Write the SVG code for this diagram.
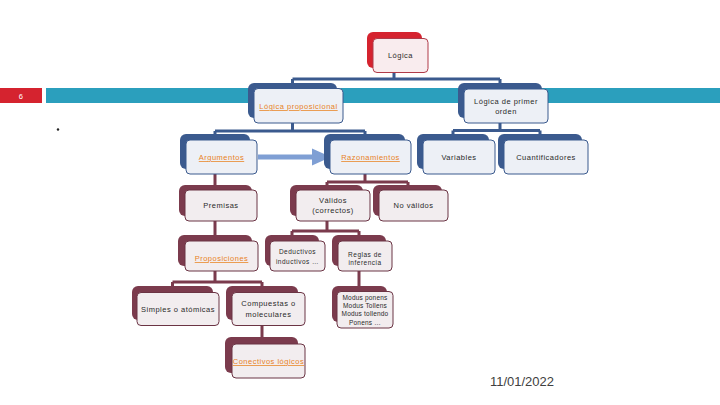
<svg xmlns="http://www.w3.org/2000/svg" width="720" height="405" viewBox="0 0 720 405">
<style>
.bb{fill:#3b5a8e}
.bm{fill:#7b3b4d}
.br{fill:#d5232f}
.cb{fill:#edf0f6;stroke:#3b5a8e;stroke-width:1}
.cm{fill:#f2edef;stroke:#6b3444;stroke-width:1}
.cr{fill:#f9ecee;stroke:#b03a48;stroke-width:1}
.t{font-family:"Liberation Sans",Arial,sans-serif;font-size:7.5px;fill:#2a2a2a;text-anchor:middle;letter-spacing:0.5px}
.o{fill:#e8821e;text-decoration:underline}
.lb{fill:none;stroke:#3b5a8e;stroke-width:3}
.lm{fill:none;stroke:#7b3b4d;stroke-width:3}
</style>
<rect width="720" height="405" fill="#fff"/>
<rect x="0" y="88" width="42" height="15" fill="#d5232f"/>
<rect x="46" y="88" width="674" height="15" fill="#2b9fbd"/>
<text x="21" y="98.5" class="t" style="fill:#fff">6</text>
<circle cx="58" cy="129.5" r="1.2" fill="#222"/>
<g id="connectors">
<path class="lb" d="M394 72V79M292.5 79H500M292.5 79V84M500 79V84"/>
<path class="lb" d="M292.5 123V131M215 131H365M215 131V135M365 131V135"/>
<path class="lb" d="M500 123V130.5M453 130.5H540M453 130.5V135M540 130.5V135"/>
<path class="lm" d="M215 174V186"/>
<path class="lm" d="M365 174V182M327 182H408M327 182V186M408 182V186"/>
<path class="lm" d="M215 221V236"/>
<path class="lm" d="M327 221V231M292 231H359M292 231V236M359 231V236"/>
<path class="lm" d="M215 271V282M172.5 282H262M172.5 282V287M262 282V287"/>
<path class="lm" d="M359 271V287"/>
<path class="lm" d="M262 325V338"/>
<path d="M258 157H314" stroke="#7f9fd4" stroke-width="5" fill="none"/>
<polygon points="312,148.5 331,157 312,165.5" fill="#7f9fd4"/>
</g>
<g id="n-logica">
<rect class="br" x="367" y="32" width="55" height="36" rx="6"/>
<rect class="cr" x="373" y="38.5" width="55" height="34" rx="4"/>
<text class="t" x="400.5" y="58">Lógica</text>
</g>
<g id="n-proposicional">
<rect class="bb" x="248" y="83" width="89" height="35" rx="6"/>
<rect class="cb" x="254" y="88.5" width="89" height="34.5" rx="4"/>
<text class="t o" x="298.5" y="109">Lógica proposicional</text>
</g>
<g id="n-primer">
<rect class="bb" x="458" y="83" width="84" height="35" rx="6"/>
<rect class="cb" x="464" y="89" width="84" height="34" rx="4"/>
<text class="t" x="506" y="104">Lógica de primer</text>
<text class="t" x="506" y="114">orden</text>
</g>
<g id="n-argumentos">
<rect class="bb" x="180" y="134" width="70" height="35" rx="6"/>
<rect class="cb" x="186" y="140" width="71" height="34" rx="4"/>
<text class="t o" x="221.5" y="160">Argumentos</text>
</g>
<g id="n-razonamientos">
<rect class="bb" x="324" y="134" width="81" height="35" rx="6"/>
<rect class="cb" x="330" y="140" width="81" height="34" rx="4"/>
<text class="t o" x="370.5" y="160">Razonamientos</text>
</g>
<g id="n-variables">
<rect class="bb" x="417" y="134" width="72" height="35" rx="6"/>
<rect class="cb" x="423" y="140" width="72" height="34" rx="4"/>
<text class="t" x="459" y="160">Variables</text>
</g>
<g id="n-cuantificadores">
<rect class="bb" x="498" y="134" width="84" height="35" rx="6"/>
<rect class="cb" x="504" y="140" width="84" height="34" rx="4"/>
<text class="t" x="546" y="160">Cuantificadores</text>
</g>
<g id="n-premisas">
<rect class="bm" x="179" y="185" width="73" height="31" rx="6"/>
<rect class="cm" x="185" y="190" width="72" height="31" rx="4"/>
<text class="t" x="221" y="208">Premisas</text>
</g>
<g id="n-validos">
<rect class="bm" x="290" y="185" width="73" height="31" rx="6"/>
<rect class="cm" x="296" y="190" width="74" height="31" rx="4"/>
<text class="t" x="333" y="203">Válidos</text>
<text class="t" x="333" y="213">(correctos)</text>
</g>
<g id="n-novalidos">
<rect class="bm" x="373" y="185" width="69" height="31" rx="6"/>
<rect class="cm" x="379" y="190" width="69" height="31" rx="4"/>
<text class="t" x="413.5" y="208">No válidos</text>
</g>
<g id="n-proposiciones">
<rect class="bm" x="178" y="235" width="74" height="31" rx="6"/>
<rect class="cm" x="185" y="241" width="73" height="30" rx="4"/>
<text class="t o" x="221.5" y="261">Proposiciones</text>
</g>
<g id="n-deductivos">
<rect class="bm" x="265" y="235" width="54" height="31" rx="6"/>
<rect class="cm" x="270" y="241" width="55" height="30" rx="4"/>
<text class="t" x="297.5" y="254" style="font-size:6.5px">Deductivos</text>
<text class="t" x="297.5" y="264" style="font-size:6.5px">inductivos …</text>
</g>
<g id="n-reglas">
<rect class="bm" x="332" y="235" width="54" height="31" rx="6"/>
<rect class="cm" x="338" y="241" width="54" height="30" rx="4"/>
<text class="t" x="365" y="257" style="font-size:6.5px">Reglas de</text>
<text class="t" x="365" y="265" style="font-size:6.5px">inferencia</text>
</g>
<g id="n-simples">
<rect class="bm" x="132" y="286" width="81" height="34" rx="6"/>
<rect class="cm" x="137" y="292.5" width="82" height="33" rx="4"/>
<text class="t" x="178" y="312">Simples  o atómicas</text>
</g>
<g id="n-compuestas">
<rect class="bm" x="226" y="286" width="72" height="34" rx="6"/>
<rect class="cm" x="232" y="292.5" width="73" height="33" rx="4"/>
<text class="t" x="268.5" y="306">Compuestas o</text>
<text class="t" x="268.5" y="317">moleculares</text>
</g>
<g id="n-modus">
<rect class="bm" x="332" y="286" width="55" height="36" rx="6"/>
<rect class="cm" x="337" y="291.5" width="56" height="36.5" rx="4"/>
<text class="t" x="365" y="300" style="font-size:6.5px;letter-spacing:0.2px">Modus ponens</text>
<text class="t" x="365" y="308" style="font-size:6.5px;letter-spacing:0.2px">Modus Tollens</text>
<text class="t" x="365" y="316" style="font-size:6.5px;letter-spacing:0.2px">Modus tollendo</text>
<text class="t" x="365" y="324.5" style="font-size:6.5px;letter-spacing:0.2px">Ponens …</text>
</g>
<g id="n-conectivos">
<rect class="bm" x="225" y="337" width="73" height="36" rx="6"/>
<rect class="cm" x="232" y="344" width="73" height="34" rx="4"/>
<text class="t o" x="268.5" y="364">Conectivos lógicos</text>
</g>
<text x="522" y="386" style="font-family:'Liberation Sans',Arial,sans-serif;font-size:13px;fill:#404040;text-anchor:middle">11/01/2022</text>
</svg>
